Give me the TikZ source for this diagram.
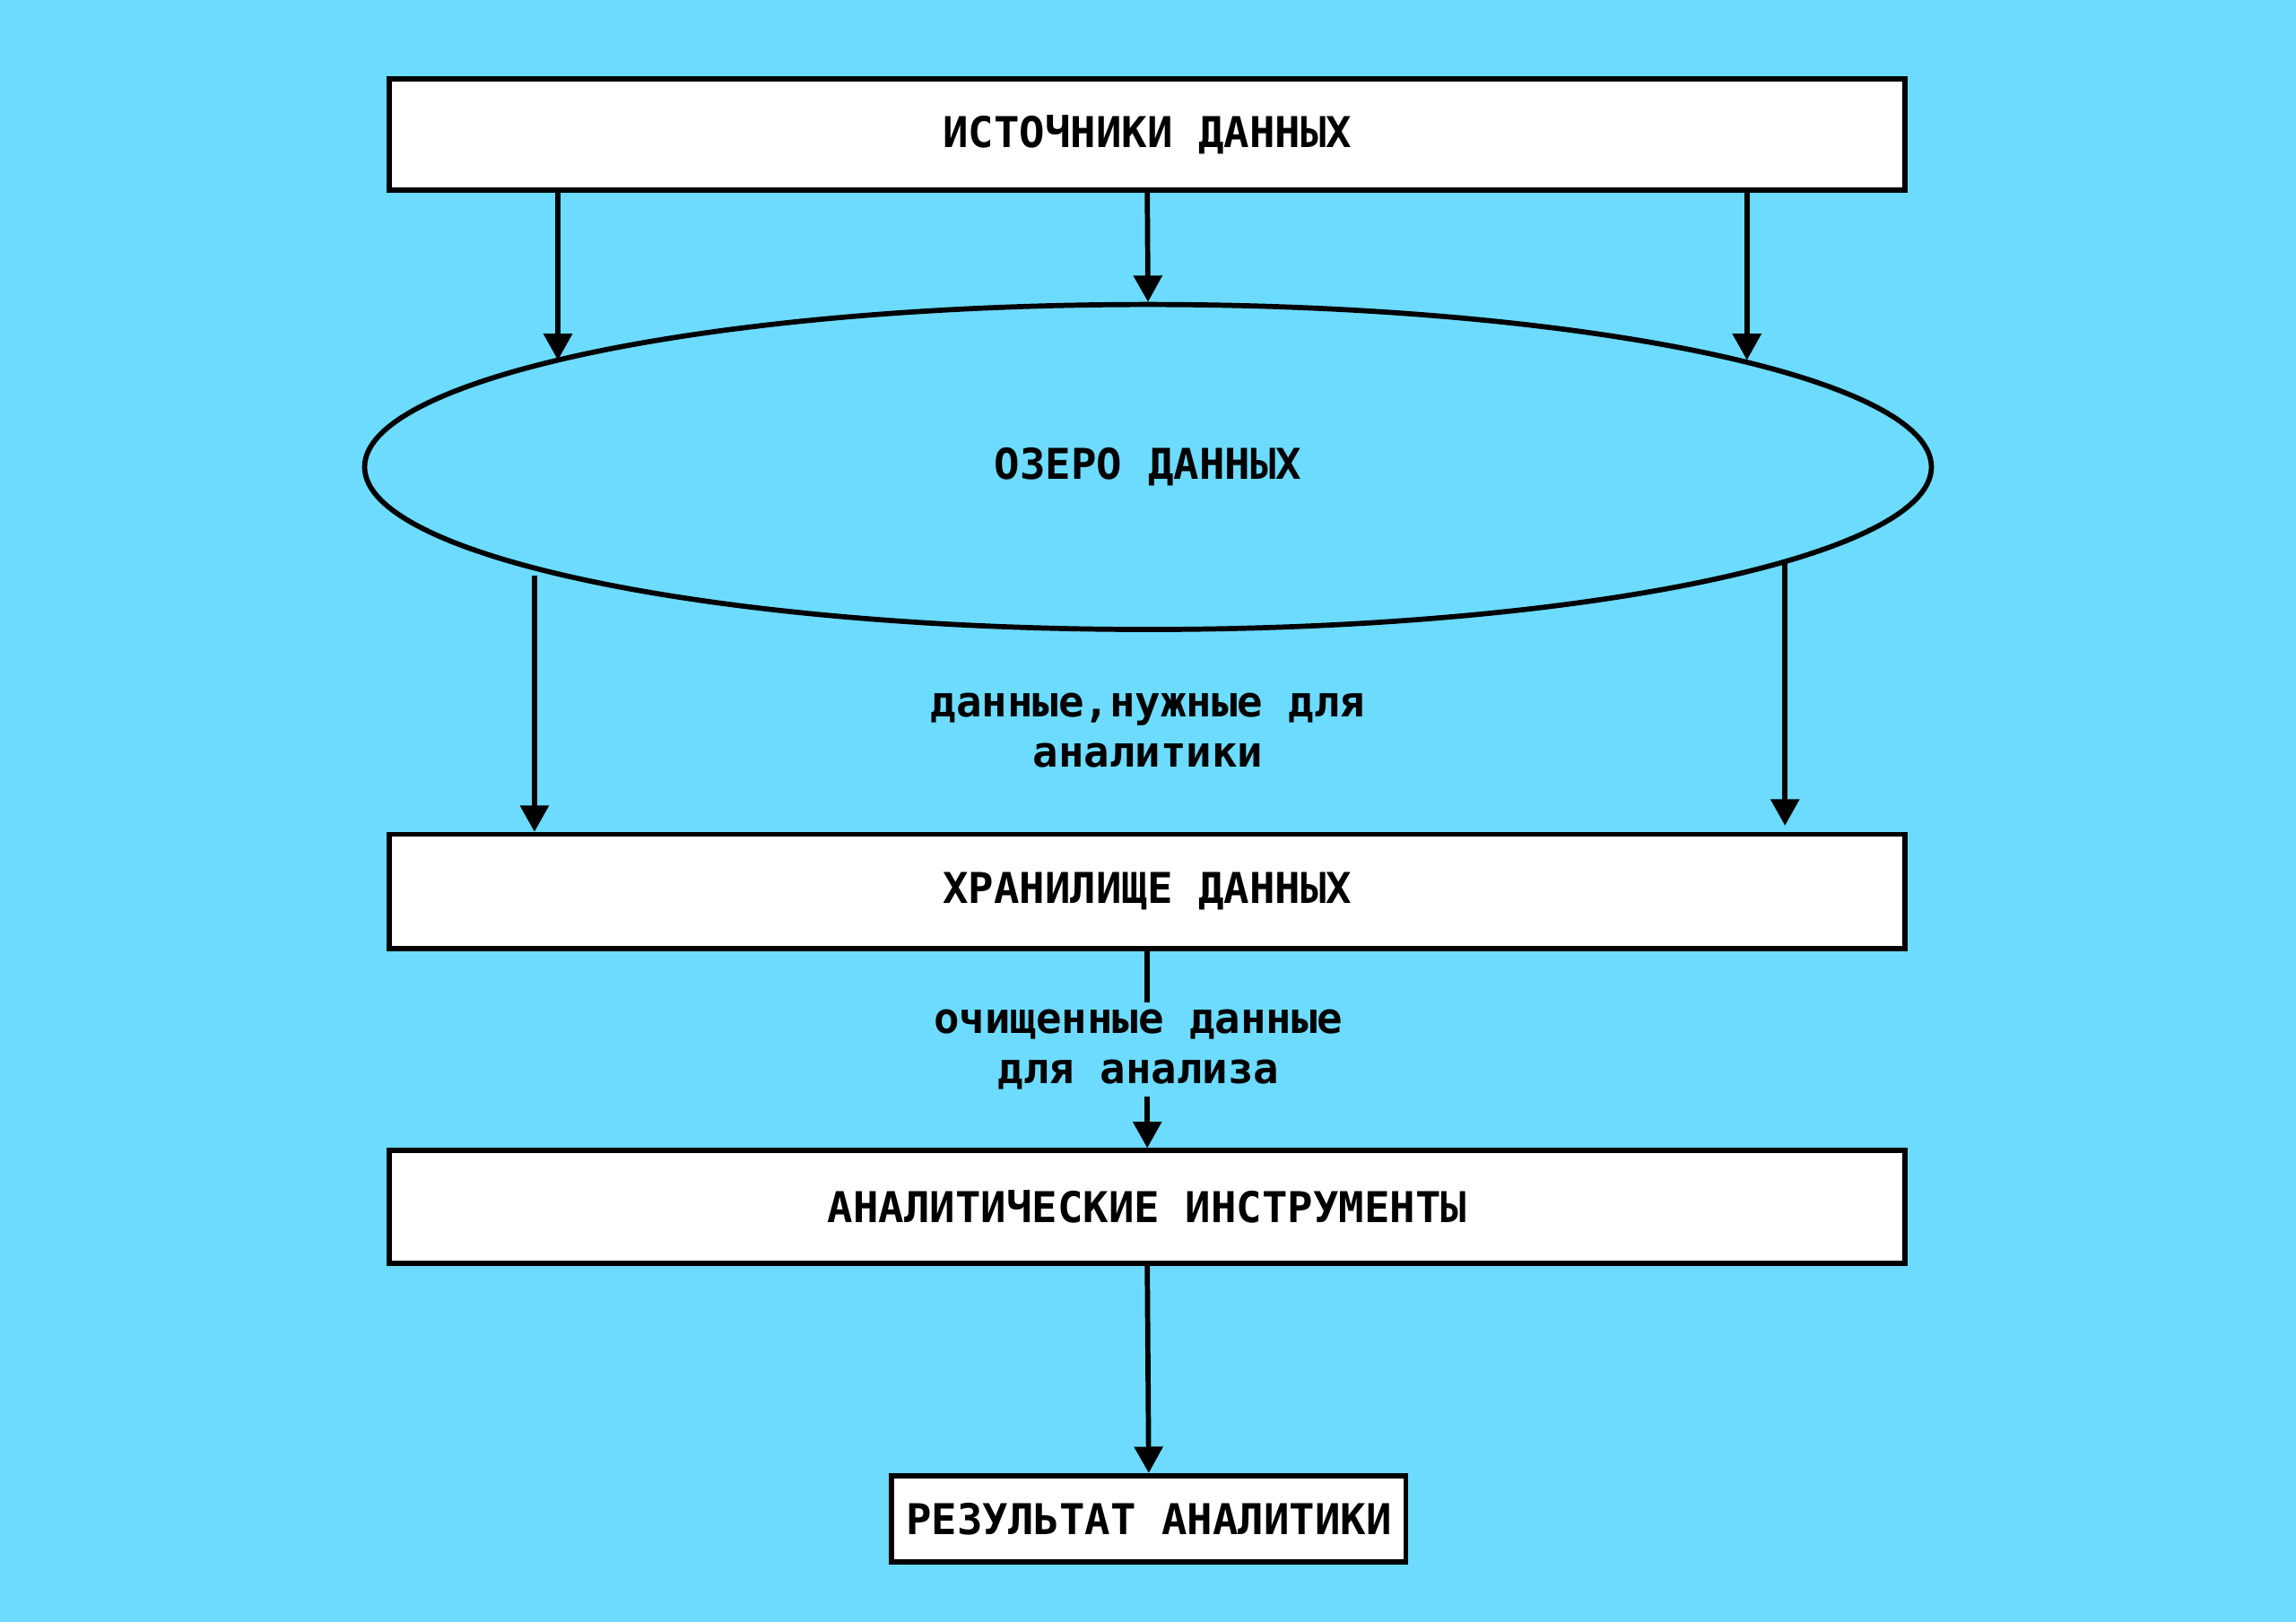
\documentclass[tikz,border=0pt]{standalone}
\usepackage{fontspec}
\setmainfont{DejaVu Sans Mono}
\usetikzlibrary{arrows.meta,shapes.geometric}
\definecolor{bg}{HTML}{6CDBFE}
\begin{document}
\begin{tikzpicture}[x=1pt,y=-1pt,
  box/.style={draw,line width=3.5pt,fill=white,inner sep=0pt,font=\fontsize{29}{34}\selectfont\bfseries},
  lbl/.style={font=\fontsize{29}{34}\selectfont\bfseries,align=center,inner sep=2pt},
  arr/.style={line width=3.5pt,-{Triangle[length=18pt,width=19pt]}}]
\fill[bg] (0,0) rectangle (1568,1108);
\useasboundingbox (0,0) rectangle (1568,1108);
\node[box,minimum width=1035pt,minimum height=76pt] (src) at (783.5,92) {ИСТОЧНИКИ ДАННЫХ};
\node[draw,line width=3.5pt,ellipse,minimum width=1070pt,minimum height=222pt,inner sep=0pt,font=\fontsize{29}{34}\selectfont\bfseries] (lake) at (784,319) {ОЗЕРО ДАННЫХ};
\node[box,minimum width=1035pt,minimum height=78pt] (dw) at (783.5,609) {ХРАНИЛИЩЕ ДАННЫХ};
\node[box,minimum width=1035pt,minimum height=77pt] (tools) at (783.5,824.5) {АНАЛИТИЧЕСКИЕ ИНСТРУМЕНТЫ};
\node[box,minimum width=351pt,minimum height=59pt] (res) at (784.5,1037.5) {РЕЗУЛЬТАТ АНАЛИТИКИ};
\node[lbl] (l1) at (784,499) {данные,нужные для\\аналитики};
\coordinate (a1) at (381,246); \coordinate (a2) at (1193,246);
\coordinate (s1) at (365,393); \coordinate (s2) at (1219,383);
\coordinate (e1) at (1219,564);
\draw[arr] (src.south -| a1) -- (a1);
\draw[arr] (src.south) -- (lake.north);
\draw[arr] (src.south -| a2) -- (a2);
\draw[arr] (s1) -- (dw.north -| s1);
\draw[arr] (s2) -- (e1);
\draw[arr] (dw.south) -- (tools.north) node[midway,lbl,fill=bg,inner sep=5pt,xshift=-6pt] (l2) {очищенные данные\\для анализа};
\draw[arr] (tools.south) -- (res.north);
\end{tikzpicture}
\end{document}
